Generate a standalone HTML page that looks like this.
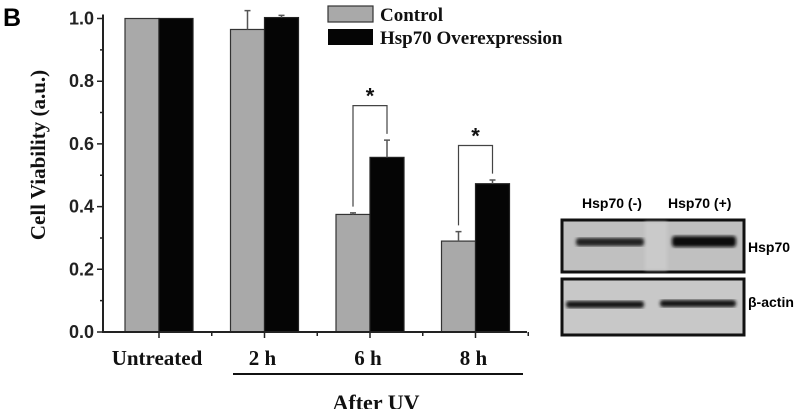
<!DOCTYPE html>
<html><head><meta charset="utf-8"><style>
body{margin:0;background:#fff;width:800px;height:409px;overflow:hidden}
svg{display:block}
.ser{font-family:"Liberation Serif",serif;font-weight:bold}
.san{font-family:"Liberation Sans",sans-serif;font-weight:bold}
</style></head><body>
<svg id="chart" width="800" height="409">
<defs>
<filter id="blur"><feGaussianBlur stdDeviation="1.6"/></filter>
</defs>
<text x="3" y="26" class="san" font-size="25">B</text>
<g id="plot"></g>
<g id="blot">
<text x="582" y="208" class="san" font-size="14">Hsp70 (-)</text>
<text x="668" y="208" class="san" font-size="14">Hsp70 (+)</text>
<rect x="562" y="220" width="182" height="52" fill="#c0c0c0" stroke="#111" stroke-width="3"/>
<rect x="645" y="222" width="22" height="48" fill="#cacaca" filter="url(#blur)"/>
<rect x="576" y="238" width="68" height="8" rx="3" fill="#222" filter="url(#blur)"/>
<rect x="672" y="236" width="64" height="11" rx="3" fill="#111" filter="url(#blur)"/>
<rect x="562" y="279" width="182" height="56" fill="#c8c8c8" stroke="#111" stroke-width="3"/>
<rect x="566" y="301" width="78" height="7" rx="3" fill="#151515" filter="url(#blur)"/>
<rect x="660" y="300" width="76" height="7" rx="3" fill="#151515" filter="url(#blur)"/>
<text x="748" y="252" class="san" font-size="14">Hsp70</text>
<text x="748" y="307" class="san" font-size="14">β-actin</text>
</g>
</svg>
<script>
const categories=["Untreated","2 h","6 h","8 h"];
const controlValues=[1.0,0.965,0.375,0.29];
const controlErrors=[0,0.06,0.005,0.03];
const hspValues=[1.0,1.003,0.557,0.473];
const hspErrors=[0,0.007,0.055,0.012];
const yTicks=["0.0","0.2","0.4","0.6","0.8","1.0"];
const sigGroups=[2,3];

const NS="http://www.w3.org/2000/svg";
const g=document.getElementById("plot");
const X0=103,X1=527,Y0=332,Y1=18.5;
const y=v=>Y0-v*(Y0-Y1);
const cx=i=>159+i*105.5;
const BW=34;
function el(tag,attrs,text){const e=document.createElementNS(NS,tag);for(const k in attrs)e.setAttribute(k,attrs[k]);if(text!==undefined)e.textContent=text;g.appendChild(e);return e;}

categories.forEach((c,i)=>{
  const b1=el("rect",{x:cx(i)-BW,y:y(controlValues[i]),width:BW,height:Y0-y(controlValues[i]),fill:"#a9a9a9",stroke:"#333","stroke-width":1.2});
  
  
  const b2=el("rect",{x:cx(i),y:y(hspValues[i]),width:BW,height:Y0-y(hspValues[i]),fill:"#050505",stroke:"#222","stroke-width":1.2});
  
  
  [[cx(i)-BW/2,controlValues[i],controlErrors[i],"#555"],[cx(i)+BW/2,hspValues[i],hspErrors[i],"#555"]].forEach(([x,v,e,col])=>{
    if(e<=0)return;
    const l=el("path",{d:`M${x},${y(v)} V${y(v+e)} M${x-3},${y(v+e)} H${x+3}`,stroke:col,"stroke-width":1.5,fill:"none"});
    
    
  });
});
const ax=el("path",{d:`M${X0},${Y1-4} V${Y0} H${X1}`,stroke:"#222","stroke-width":2,fill:"none"});


yTicks.forEach((t)=>{
  const v=parseFloat(t);
  const tk=el("path",{d:`M${X0-6},${y(v)} H${X0} M${X0-3},${y(v+0.1)} H${X0}`,stroke:"#222","stroke-width":1.5});
  
  
  const tl=el("text",{x:94,y:y(v)+6,"text-anchor":"end","font-size":18,"class":"san",fill:"#222"},t);
  
  
});
categories.forEach((c,i)=>{
  const tk=el("path",{d:`M${cx(i)},${Y0} V${Y0+6} M${cx(i)+52.75},${Y0} V${Y0+4}`,stroke:"#222","stroke-width":1.5});
  
  
  const tl=el("text",{x:cx(i)-2,y:365,"text-anchor":"middle","font-size":21,"class":"ser",fill:"#111"},c);
  
  
});
const ul=el("line",{x1:233,x2:523,y1:374,y2:374,stroke:"#111","stroke-width":2});


const au=el("text",{x:376,y:410,"text-anchor":"middle","font-size":22,"class":"ser",fill:"#111"},"After UV");


const yl=el("text",{x:0,y:0,transform:"translate(45,155) rotate(-90)","text-anchor":"middle","font-size":21,"class":"ser",fill:"#111"},"Cell Viability (a.u.)");


sigGroups.forEach(i=>{
  const lx=cx(i)-BW/2, rx=cx(i)+BW/2;
  const top=y(Math.max(controlValues[i]+controlErrors[i],hspValues[i]+hspErrors[i])+0.11);
  const p=el("path",{d:`M${lx},${y(controlValues[i]+controlErrors[i]+0.02)} V${top} H${rx} V${y(hspValues[i]+hspErrors[i]+0.02)}`,stroke:"#444","stroke-width":1.2,fill:"none"});
  
  
  const s=el("text",{x:(lx+rx)/2,y:top-2,"text-anchor":"middle","font-size":22,"class":"san",fill:"#111"},"*");
  
  
});
const lg1=el("rect",{x:328,y:6,width:45,height:16,fill:"#a9a9a9",stroke:"#333","stroke-width":1.2});


const lg2=el("rect",{x:328,y:29,width:45,height:16,fill:"#050505"});


const lt1=el("text",{x:380,y:21,"font-size":19,"class":"ser",fill:"#111"},"Control");


const lt2=el("text",{x:380,y:44,"font-size":19,"class":"ser",fill:"#111"},"Hsp70 Overexpression");


</script>
</body></html>
